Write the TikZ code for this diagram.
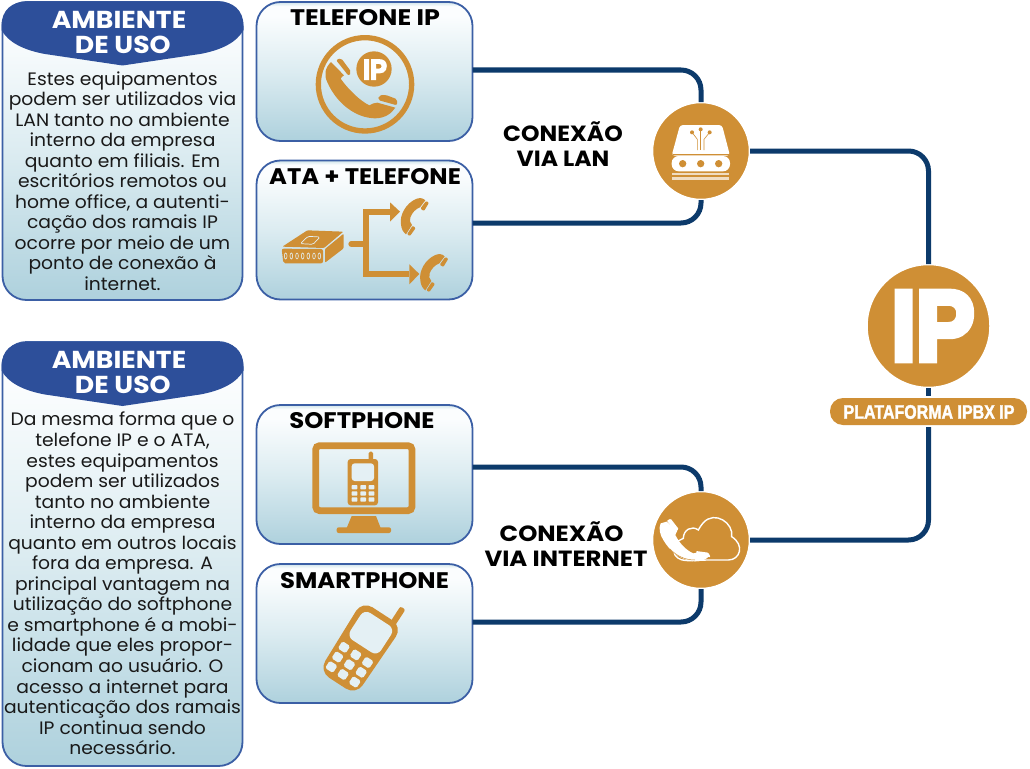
\documentclass[tikz,border=0pt]{standalone}
\usepackage{fontspec}
\setmainfont{Poppins}
\newfontfamily\heavyf[BoldFeatures={FakeBold=2}]{Liberation Sans}
\newfontfamily\blackf[BoldFeatures={FakeBold=6}]{Liberation Sans}
\definecolor{gold}{HTML}{CF8F35}
\definecolor{navy}{HTML}{0C3A6B}
\definecolor{hdr}{HTML}{2D4F9A}
\definecolor{edge}{HTML}{3B5FA5}
\definecolor{gA}{HTML}{AED1DD}
\definecolor{gB}{HTML}{DCECF1}
\definecolor{gC}{HTML}{FBFDFE}
\definecolor{gD}{HTML}{CFE4EA}
\definecolor{lightk}{HTML}{E4F0F4}
\pgfdeclareverticalshading{boxgrad}{100bp}{color(0bp)=(gA); color(25bp)=(gA); color(50bp)=(gB); color(70bp)=(gC); color(73.5bp)=(gC); color(75bp)=(gD); color(100bp)=(gD)}
\tikzset{
  panel/.style={draw=edge,line width=1.8pt,rounded corners=24pt,shading=boxgrad,inner sep=0pt,outer sep=0pt},
  devbox/.style={panel,minimum width=216pt,minimum height=139pt},
  sidebox/.style={panel,minimum width=240pt},
  boxtitle/.style={font=\fontsize{22.5}{26}\selectfont\bfseries,text=black,inner sep=0pt,xscale=1.08},
  hdrtitle/.style={font=\fontsize{24.5}{25}\selectfont\bfseries,text=white,align=center,inner sep=0pt,xscale=1.09},
  bodytext/.style={font=\fontsize{18}{20.55}\selectfont,align=center,inner sep=0pt,text=black!90,xscale=1.04},
  conlabel/.style={font=\fontsize{22}{25}\selectfont\bfseries,align=center,inner sep=0pt,text=black,xscale=1.07},
  hub/.style={circle,fill=gold,draw=white,line width=2.5pt,inner sep=0pt,outer sep=0pt},
  conn/.style={draw=navy,line width=5pt,rounded corners=20pt},
  ic/.style={fill=gold,draw=none},
  iw/.style={fill=white,draw=none},
  z3/.style={scale=0.333333},
}
\begin{document}
\begin{tikzpicture}[x=1pt,y=-1pt]
\useasboundingbox[fill=white] (0,0) rectangle (1030,768);
% panels
\node[sidebox,minimum height=298pt] (side1) at (122.5,151) {};
\node[sidebox,minimum height=424pt] (side2) at (122.5,554) {};
\node[devbox] (tel) at (364.5,71.5) {};
\node[devbox] (ata) at (364.5,230) {};
\node[devbox] (soft) at (364.5,474.5) {};
\node[devbox] (smart) at (364.5,633.5) {};
% headers
\foreach \yy in {0,340.5}{
\fill[hdr,yshift=-\yy pt] (1.5,30) -- (1.5,26) .. controls (1.5,10) and (12,1.5) .. (27,1.5) -- (218,1.5) .. controls (233,1.5) and (243.5,10) .. (243.5,26) -- (243.5,30) .. controls (237,42) and (222,50) .. (200,54) -- (122.5,65.5) -- (45,54) .. controls (23,50) and (8,42) .. (1.5,30) -- cycle;
}
\node[hdrtitle] (h1) at (119,32) {AMBIENTE\\\hspace*{7pt}DE USO};
\node[hdrtitle] (h2) at (119,372.5) {AMBIENTE\\\hspace*{7pt}DE USO};
\node[bodytext] (b1) at (122.5,181) {Estes equipamentos\\podem ser utilizados via\\LAN tanto no ambiente\\interno da empresa\\quanto em filiais. Em\\escritórios remotos ou\\home office, a autenti-\\cação dos ramais IP\\ocorre por meio de um\\ponto de conexão à\\internet.};
\node[bodytext] (b2) at (122.5,583.5) {Da mesma forma que o\\telefone IP e o ATA,\\estes equipamentos\\podem ser utilizados\\tanto no ambiente\\interno da empresa\\quanto em outros locais\\fora da empresa. A\\principal vantagem na\\utilização do softphone\\e smartphone é a mobi-\\lidade que eles propor-\\cionam ao usuário. O\\acesso a internet para\\autenticação dos ramais\\IP continua sendo\\necessário.};
% titles
\node[boxtitle,xscale=1.045] (t1) at (365,18) {TELEFONE IP};
\node[boxtitle] (t2) at (365,177) {ATA + TELEFONE};
\node[boxtitle] (t3) at (362,421) {SOFTPHONE};
\node[boxtitle] (t4) at (364.5,580.5) {SMARTPHONE};
\node[conlabel] (c1) at (563,144) {CONEXÃO\\VIA LAN};
\node[conlabel,xscale=1.035] (c2) at (566,544) {\hspace*{-8pt}CONEXÃO\\VIA INTERNET};
% hubs
\node[hub,minimum size=98pt] (lan) at (701,151) {};
\node[hub,minimum size=98pt] (net) at (701,540) {};
\node[hub,minimum size=124pt] (ip) at (928.5,326) {};
\node[fill=gold,rounded corners=13pt,minimum width=197pt,minimum height=27pt,inner sep=0pt,outer sep=2pt] (pill) at (928.5,411.5) {};
% connectors
\draw[conn] ([yshift=1.5pt]tel.east) -| (lan.north);
\draw[conn] ([yshift=7pt]ata.east) -| (lan.south);
\draw[conn] ([yshift=7.5pt]soft.east) -| (net.north);
\draw[conn] ([yshift=11.5pt]smart.east) -| (net.south);
\draw[conn] (lan.east) -| (ip.north);
\draw[conn] (ip.south) -- (pill.north);
\draw[conn] (pill.south) |- (net.east);
% big labels
\node[text=white,inner sep=0pt,font=\blackf\bfseries\fontsize{100}{100}\selectfont,xscale=0.88] (iptxt) at (933,326) {IP};
\node[text=white,inner sep=0pt,font=\heavyf\bfseries\fontsize{19.5}{20}\selectfont,xscale=0.82] (plat) at (929,412) {PLATAFORMA IPBX IP};
% telefone IP icon
\begin{scope}[shift={(250,0)},z3]
\draw[gold,line width=5.3pt] (345,253) circle (140);
\fill[gold] (372,207) circle (53);
\node[text=white,inner sep=0pt,font=\blackf\bfseries\fontsize{28}{28}\selectfont,xscale=0.9] (ipsm) at (375,209) {IP};
\fill[ic] (243,186) .. controls (224,205) and (222,225) .. (232,247) .. controls (262,314) and (320,354) .. (375,355) .. controls (405,355) and (425,340) .. (436,323) -- (382,308) .. controls (372,308) and (366,312) .. (358,316) .. controls (330,303) and (292,265) .. (272,236) .. controls (274,232) and (278,228) .. (282,226) -- cycle;
\fill[ic,rounded corners=2pt] (258,180) -- (273,174) -- (304,216) -- (296,228) -- cycle;
\fill[ic,rounded corners=2pt] (386,287) -- (405,284) -- (442,298) -- (441,316) -- (384,300) -- cycle;
\end{scope}
% ATA icon
\begin{scope}[shift={(250,155)},z3]
\fill[ic,rounded corners=1pt] (97,275) -- (172,226) -- (280,230) -- (222,279) -- cycle;
\fill[ic,rounded corners=2pt] (95,281) -- (219,282) -- (219,325) -- (100,325) -- cycle;
\fill[ic,rounded corners=1pt] (225,282) -- (281,236) -- (281,280) -- (225,323) -- cycle;
\draw[lightk,line width=0.7pt,rounded corners=1.5pt] (151,266) -- (174,244) -- (210,246) -- (189,268) -- cycle;
\foreach \xx in {107,124,141,158,175,192,208}{\draw[lightk,line width=0.6pt] (\xx,303) ellipse (4 and 9);}
\draw[gold,line width=6pt,line cap=round] (304,267) -- (347,267);
\draw[gold,line width=6pt] (420,170) -- (347,170) -- (347,357) -- (478,357);
\fill[ic] (420,142) -- (450,170) -- (420,200) -- cycle;
\fill[ic] (478,328) -- (508,357) -- (478,388) -- cycle;
\foreach \dx/\dy in {0/0,58/168}{
\begin{scope}[shift={(\dx,\dy)}]
\fill[ic] (498,132) .. controls (468,145) and (448,180) .. (453,208) .. controls (454,222) and (460,232) .. (468,238) -- (486,210) .. controls (480,205) and (478,195) .. (481,187) .. controls (487,172) and (497,162) .. (510,157) -- (526,136) .. controls (518,128) and (508,128) .. (498,132) -- cycle;
\fill[ic,rounded corners=1pt] (528,138) -- (537,143) -- (522,168) -- (511,161) -- cycle;
\fill[ic,rounded corners=1pt] (488,212) -- (497,219) -- (480,243) -- (471,238) -- cycle;
\end{scope}}
\end{scope}
% softphone icon
\begin{scope}[shift={(250,400)},z3]
\draw[gold,line width=6.8pt,rounded corners=4pt] (197,137) rectangle (486,332);
\fill[ic] (305,348) -- (378,348) -- (392,384) -- (290,384) -- cycle;
\fill[ic,rounded corners=2pt] (260,382) rectangle (423,399);
\fill[ic,rounded corners=3pt] (293,177) rectangle (384,316);
\fill[ic,rounded corners=1.5pt] (356,155) rectangle (369,185);
\fill[lightk,rounded corners=3pt] (305,190) rectangle (372,243);
\foreach \kx in {305,331,356}{\foreach \ky in {255,274,292}{\fill[lightk,rounded corners=0.7pt] (\kx,\ky) rectangle ++(17,13);}}
\end{scope}
% smartphone icon
\begin{scope}[shift={(250,558)},z3]
\begin{scope}[shift={(332,268)},rotate=-33]
\fill[ic,rounded corners=2pt] (33,-168) rectangle (51,-100);
\fill[ic,rounded corners=12pt] (-72,-120) -- (72,-120) -- (66,128) -- (-66,128) -- cycle;
\fill[lightk,rounded corners=7pt] (-53,-102) rectangle (56,-5);
\foreach \kx in {-42,0,42}{\foreach \ky in {27,62,97}{\fill[lightk,rounded corners=1.7pt] ({\kx-14},{\ky-13}) rectangle ++(28,26);}}
\end{scope}
\end{scope}
% LAN icon
\begin{scope}[shift={(640,90)},z3]
\fill[iw,rounded corners=3pt] (120,105) -- (246,105) -- (270,197) -- (95,197) -- cycle;
\draw[gold,line width=0.5pt] (100,192) -- (266,192);
\fill[iw,rounded corners=7pt] (95,198) rectangle (270,244);
\foreach \cx in {128,182,236}{\fill[gold] (\cx,221) circle (11);}
\fill[white!70!gold] (97,249) rectangle (268,255);
\fill[white!70!gold] (97,262) rectangle (268,269);
\foreach \px/\py in {156/127,209/127,182/118}{\fill[gold] (\px,\py) circle (6);}
\draw[gold,line width=0.6pt] (156,127) -- (172,148) -- (172,180);
\draw[gold,line width=0.6pt] (182,118) -- (182,180);
\draw[gold,line width=0.6pt] (209,127) -- (192,148) -- (192,180);
\end{scope}
% cloud icon
\begin{scope}[shift={(640,480)},z3]
\draw[white,line width=1.4pt,fill=gold] (200,240) -- (265,240) .. controls (300,240) and (315,195) .. (275,170) .. controls (282,130) and (225,90) .. (190,128) .. controls (180,140) and (178,145) .. (175,150) .. controls (155,135) and (130,150) .. (130,175) .. controls (110,180) and (95,205) .. (105,225) .. controls (115,240) and (130,242) .. (150,242) -- cycle;
\fill[iw] (62,130) .. controls (55,145) and (60,165) .. (70,180) .. controls (90,215) and (125,243) .. (165,244) .. controls (185,244) and (200,238) .. (208,228) -- (180,218) .. controls (172,216) and (165,220) .. (160,220) .. controls (140,212) and (118,190) .. (106,165) .. controls (108,160) and (110,155) .. (112,152) -- (80,125) -- cycle;
\fill[iw,rounded corners=1pt] (80,122) -- (92,116) -- (116,147) -- (108,154) -- cycle;
\fill[iw,rounded corners=1pt] (168,213) -- (205,218) -- (212,232) -- (170,222) -- cycle;
\draw[gold,line width=0.5pt] (90,207) .. controls (110,228) and (135,240) .. (165,240);
\end{scope}
\end{tikzpicture}
\end{document}
